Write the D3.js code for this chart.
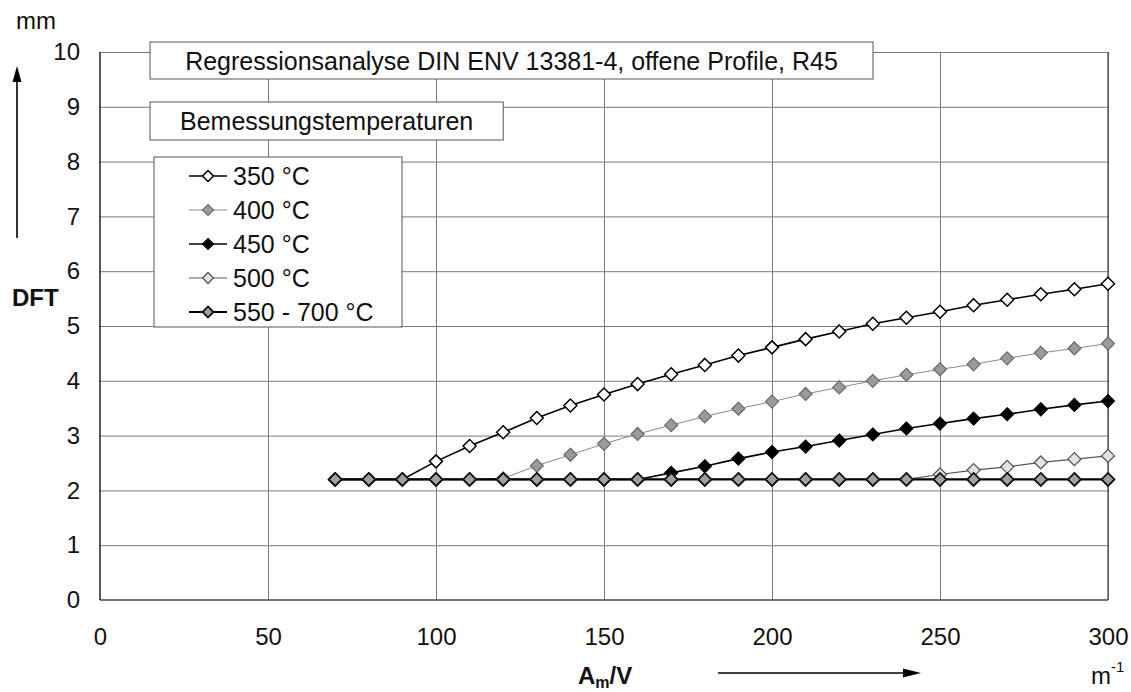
<!DOCTYPE html>
<html>
<head>
<meta charset="utf-8">
<script src="https://cdn.jsdelivr.net/npm/d3@7"></script>
<style>
body { margin: 0; background: #fff; }
text { font-family: "Liberation Sans", Arial, Helvetica, sans-serif; fill: #111; }
</style>
</head>
<body>
<script>
var width = 1131,
    height = 692;

// data
var xValues = [70, 80, 90, 100, 110, 120, 130, 140, 150, 160, 170, 180, 190, 200, 210, 220, 230, 240, 250, 260, 270, 280, 290, 300];
var t350 = [2.2, 2.2, 2.2, 2.53, 2.81, 3.06, 3.32, 3.55, 3.75, 3.94, 4.12, 4.29, 4.46, 4.61, 4.76, 4.90, 5.04, 5.15, 5.26, 5.38, 5.48, 5.58, 5.67, 5.77];
var t400 = [2.2, 2.2, 2.2, 2.2, 2.2, 2.22, 2.45, 2.65, 2.85, 3.03, 3.19, 3.35, 3.49, 3.62, 3.76, 3.88, 4.00, 4.11, 4.21, 4.30, 4.41, 4.51, 4.59, 4.68];
var t450 = [2.2, 2.2, 2.2, 2.2, 2.2, 2.2, 2.2, 2.2, 2.2, 2.2, 2.32, 2.44, 2.58, 2.70, 2.80, 2.91, 3.02, 3.13, 3.22, 3.31, 3.39, 3.48, 3.56, 3.63];
var t500 = [2.2, 2.2, 2.2, 2.2, 2.2, 2.2, 2.2, 2.2, 2.2, 2.2, 2.2, 2.2, 2.2, 2.2, 2.2, 2.2, 2.2, 2.2, 2.29, 2.37, 2.43, 2.51, 2.57, 2.63];
var t550 = [2.2, 2.2, 2.2, 2.2, 2.2, 2.2, 2.2, 2.2, 2.2, 2.2, 2.2, 2.2, 2.2, 2.2, 2.2, 2.2, 2.2, 2.2, 2.2, 2.2, 2.2, 2.2, 2.2, 2.2];
var seriesNames = ["350 °C", "400 °C", "450 °C", "500 °C", "550 - 700 °C"];
var xTicks = [0, 50, 100, 150, 200, 250, 300];
var yTicks = [0, 1, 2, 3, 4, 5, 6, 7, 8, 9, 10];
var chartTitle = "Regressionsanalyse DIN ENV 13381-4, offene Profile, R45";
var legendTitle = "Bemessungstemperaturen";

// look of each series
var styles = [
    {line: "#000", lw: 1.6, fill: "#fff", stroke: "#000", sw: 1.5},
    {line: "#8a8a8a", lw: 1, fill: "#9a9a9a", stroke: "#6a6a6a", sw: 1.2},
    {line: "#000", lw: 1.6, fill: "#000", stroke: "#000", sw: 1.2},
    {line: "#555", lw: 1.2, fill: "#e2e2e2", stroke: "#555", sw: 1.3},
    {line: "#000", lw: 2.2, fill: "#a0a0a0", stroke: "#111", sw: 1.8}
];

var series = [t350, t400, t450, t500, t550].map(function (vals, i) {
    return {
        name: seriesNames[i],
        style: styles[i],
        points: vals.map(function (v, j) { return {x: xValues[j], y: v}; })
    };
});

var svg = d3.select("body").append("svg")
    .attr("width", width)
    .attr("height", height);

var x = d3.scaleLinear().domain([0, 300]).range([100, 1108]);
var y = d3.scaleLinear().domain([0, 10]).range([600, 52]);

// grid
svg.append("g")
    .attr("transform", "translate(0,600)")
    .call(d3.axisBottom(x).tickValues(xTicks.slice(1)).tickSize(-548).tickFormat(""))
    .call(function (g) { g.select(".domain").remove(); })
    .selectAll("line").attr("stroke", "#7a7a7a").attr("stroke-width", 1);

svg.append("g")
    .attr("transform", "translate(100,0)")
    .call(d3.axisLeft(y).tickValues(yTicks.slice(1)).tickSize(-1008).tickFormat(""))
    .call(function (g) { g.select(".domain").remove(); })
    .selectAll("line").attr("stroke", "#7a7a7a").attr("stroke-width", 1);

// frame
svg.append("line").attr("x1", 100).attr("x2", 1108).attr("y1", 600).attr("y2", 600)
    .attr("stroke", "#444").attr("stroke-width", 1.3);
svg.append("line").attr("x1", 1108).attr("x2", 1108).attr("y1", 52).attr("y2", 600)
    .attr("stroke", "#444").attr("stroke-width", 1.2);
svg.append("line").attr("x1", 100).attr("x2", 100).attr("y1", 52).attr("y2", 600)
    .attr("stroke", "#000").attr("stroke-width", 1.3);

// tick labels
var xAxis = svg.append("g")
    .attr("transform", "translate(0,600)")
    .call(d3.axisBottom(x).tickValues(xTicks).tickSize(0).tickPadding(28));
xAxis.select(".domain").remove();
xAxis.selectAll("text").style("font-size", "24px").attr("fill", "#111");

var yAxis = svg.append("g")
    .attr("transform", "translate(100,0)")
    .call(d3.axisLeft(y).tickValues(yTicks).tickSize(0).tickPadding(20));
yAxis.select(".domain").remove();
yAxis.selectAll("text").style("font-size", "24px").attr("fill", "#111");

// series
var line = d3.line()
    .x(function (d) { return x(d.x); })
    .y(function (d) { return y(d.y); });

function diamond(r) {
    return "M0," + (-r) + "L" + r + ",0L0," + r + "L" + (-r) + ",0Z";
}

series.forEach(function (s) {
    svg.append("path")
        .datum(s.points)
        .attr("d", line)
        .attr("fill", "none")
        .attr("stroke", s.style.line)
        .attr("stroke-width", s.style.lw);
});

series.forEach(function (s) {
    svg.append("g").selectAll("path")
        .data(s.points)
        .enter().append("path")
        .attr("d", diamond(6.5))
        .attr("transform", function (d) { return "translate(" + x(d.x) + "," + y(d.y) + ")"; })
        .attr("fill", s.style.fill)
        .attr("stroke", s.style.stroke)
        .attr("stroke-width", s.style.sw);
});

// title boxes
svg.append("rect").attr("x", 150).attr("y", 42).attr("width", 723).attr("height", 37)
    .attr("fill", "#fff").attr("stroke", "#555").attr("stroke-width", 1);
svg.append("text").attr("x", 511.5).attr("y", 61).attr("dy", "0.35em")
    .attr("text-anchor", "middle").style("font-size", "25px").text(chartTitle);

var box2 = svg.append("rect").attr("x", 150).attr("y", 102).attr("height", 38)
    .attr("fill", "#fff").attr("stroke", "#555").attr("stroke-width", 1);
var t2 = svg.append("text").attr("x", 180).attr("y", 121).attr("dy", "0.35em")
    .style("font-size", "25px").text(legendTitle);
box2.attr("width", t2.node().getComputedTextLength() + 60);

// legend
var legend = svg.append("g");
legend.append("rect").attr("x", 154).attr("y", 157).attr("width", 248).attr("height", 170)
    .attr("fill", "#fff").attr("stroke", "#555").attr("stroke-width", 1);

var item = legend.selectAll(".item")
    .data(series)
    .enter().append("g")
    .attr("class", "item")
    .attr("transform", function (d, i) { return "translate(0," + (176 + i * 34) + ")"; });

item.append("line")
    .attr("x1", 189).attr("x2", 227)
    .attr("stroke", function (d) { return d.style.line; })
    .attr("stroke-width", function (d) { return d.style.lw; });
item.append("path")
    .attr("d", diamond(5.5))
    .attr("transform", "translate(208,0)")
    .attr("fill", function (d) { return d.style.fill; })
    .attr("stroke", function (d) { return d.style.stroke; })
    .attr("stroke-width", function (d) { return d.style.sw; });
item.append("text")
    .attr("x", 233).attr("dy", "0.35em")
    .style("font-size", "25px")
    .text(function (d) { return d.name; });

// axis captions and arrows
svg.append("text").attr("x", 16).attr("y", 29).style("font-size", "24px").text("mm");
svg.append("text").attr("x", 12).attr("y", 306).style("font-size", "24px")
    .style("font-weight", "bold").text("DFT");
svg.append("line").attr("x1", 17).attr("x2", 17).attr("y1", 238).attr("y2", 80)
    .attr("stroke", "#000").attr("stroke-width", 1.6);
svg.append("path").attr("d", "M17,66L12.5,82L21.5,82Z").attr("fill", "#000");

var xl = svg.append("text").attr("x", 578).attr("y", 684)
    .style("font-size", "24px").style("font-weight", "bold");
xl.append("tspan").text("A");
xl.append("tspan").attr("dy", 4).style("font-size", "16px").text("m");
xl.append("tspan").attr("dy", -4).text("/V");

svg.append("line").attr("x1", 718).attr("x2", 905).attr("y1", 673).attr("y2", 673)
    .attr("stroke", "#000").attr("stroke-width", 1.6);
svg.append("path").attr("d", "M921,673L903,668.5L903,677.5Z").attr("fill", "#000");

var ul = svg.append("text").attr("x", 1091).attr("y", 684).style("font-size", "24px");
ul.append("tspan").text("m");
ul.append("tspan").attr("dy", -12).style("font-size", "15px").text("-1");
</script>
</body>
</html>
